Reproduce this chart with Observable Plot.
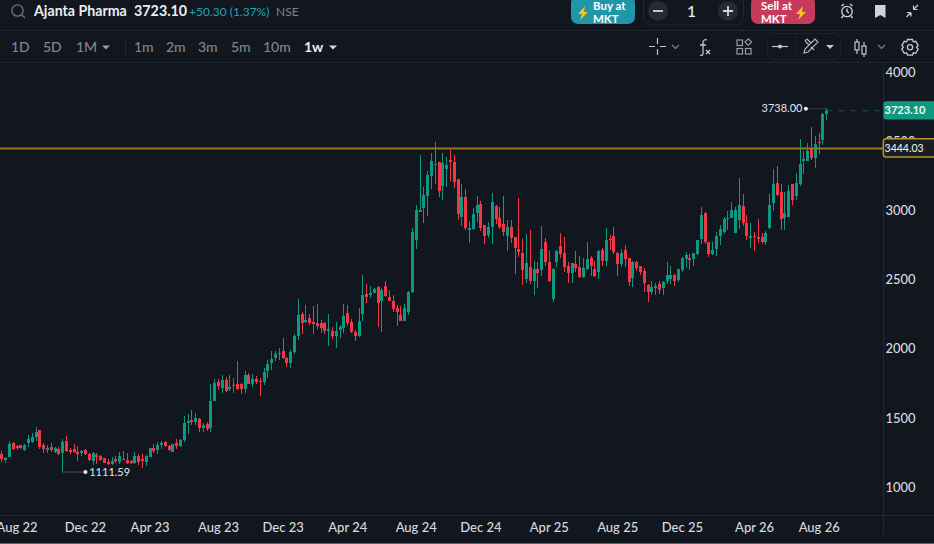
<!DOCTYPE html>
<html><head><meta charset="utf-8">
<script src="https://cdn.jsdelivr.net/npm/d3@7"></script>
<script src="https://cdn.jsdelivr.net/npm/@observablehq/plot@0.6"></script>
<style>
html,body{margin:0;padding:0;background:#11161f;}
#page{position:relative;width:934px;height:544px;overflow:hidden;background:#11161f;font-family:Lato,sans-serif;color:#e6e8ec;}
#head{position:relative;height:62px;}
.hl{position:absolute;left:0;right:0;height:1px;background:#22272f;}
.t{position:absolute;white-space:nowrap;line-height:1;}
.tf{color:#7f858e;font-size:14px;top:40px;font-weight:500;}
.btn{position:absolute;top:-4px;height:28px;width:64px;border-radius:7px;color:#fff;font-size:11.5px;font-weight:700;line-height:12.5px;}
#chart{position:absolute;left:0;top:62px;}
#chart svg{display:block;}
svg.ic{position:absolute;overflow:visible;}
</style></head><body>
<div id="page">
<div id="head">
<svg class="ic" style="left:0;top:0" width="934" height="62" fill="none">
  <circle cx="17.5" cy="10.5" r="5.6" stroke="#6b7078" stroke-width="1.4"/><path d="M21.5 14.5l3.5 3.5" stroke="#6b7078" stroke-width="1.4"/>
  <rect x="643.5" y="-6" width="100" height="31" rx="8" stroke="#22272f"/>
  <circle cx="658" cy="11" r="10" fill="#252c38"/><path d="M653 11h10" stroke="#d4d6da" stroke-width="1.8"/>
  <circle cx="728" cy="11" r="10" fill="#252c38"/><path d="M723 11h10M728 6v10" stroke="#d4d6da" stroke-width="1.8"/>
  <g stroke="#d2d4d8" stroke-width="1.3"><circle cx="847" cy="11.5" r="5.2"/><path d="M847 8.5v3l2 1.5M841.5 6l2.5-2M852.5 6l-2.5-2M843 16l-1.5 2M851 16l1.5 2"/></g>
  <path d="M875 5h10.5v13l-5.2-3-5.3 3z" fill="#cdd2dc"/>
  <path d="M906.5 17l4.5-4.5M911 12.5v4M911 12.5h-4M918 5l-4.5 4.5M913.5 9.5v-4M913.5 9.5h4" stroke="#d2d4d8" stroke-width="1.2"/>
  <path d="M649 46.5h6M660 46.5h6M657.5 38v6M657.5 49v6" stroke="#c4c7cc" stroke-width="1.2"/>
  <path d="M672 45l3.5 3.5 3.5-3.5" stroke="#7f858e" stroke-width="1.1"/>
  <path d="M707 40c-2-1-4 0-4 3v10c0 2-1 3-3 2M700 45h6M706 50l4 4M710 50l-4 4" stroke="#c4c7cc" stroke-width="1.3"/>
  <g stroke="#9a9ea5" stroke-width="1.2"><rect x="737" y="40" width="5.5" height="5.5"/><rect x="737" y="48.5" width="5.5" height="5.5"/><rect x="745.5" y="48.5" width="5.5" height="5.5"/><path d="M748.3 38.8l3.3 3.3-3.3 3.3-3.3-3.3z"/></g>
  <rect x="767.5" y="33.5" width="73" height="26" rx="6" stroke="#1e232b"/>
  <path d="M772 46.5h16" stroke="#c4c7cc" stroke-width="1.2"/><circle cx="780" cy="46.5" r="2" fill="#c4c7cc"/>
  <path d="M796 37v19" stroke="#22272f"/>
  <path d="M804 53l1-4 10-10 3 3-10 10zM805 41l4 4M811 47l3 3 M805 41l2-2 4 4" stroke="#b8bbc0" stroke-width="1.1"/>
  <path d="M826 45h8l-4 4z" fill="#c4c7cc"/>
  <g stroke="#c4c7cc" stroke-width="1.2"><path d="M857 39v15M864 42v15"/><rect x="855" y="42" width="4" height="8" fill="#11161f"/><rect x="862" y="46" width="4" height="8" fill="#11161f"/></g>
  <path d="M878 45l3.5 3.5 3.5-3.5" stroke="#7f858e" stroke-width="1.1"/>
  <g stroke="#c4c7cc" stroke-width="1.3"><path d="M907.5 39.5h5l.8 2.3 2.4-.5 2.5 4.2-1.6 1.8 1.6 1.8-2.5 4.2-2.4-.5-.8 2.3h-5l-.8-2.3-2.4.5-2.5-4.2 1.6-1.8-1.6-1.8 2.5-4.2 2.4.5z"/><circle cx="910" cy="47.3" r="2.6"/></g>
  <path d="M125.5 38v18" stroke="#22272f"/>
  <path d="M102 45.5h8l-4 4z" fill="#9a9ea5"/><path d="M329 45.5h8l-4 4z" fill="#d6d8dc"/>
</svg>
<div class="t" style="left:34px;top:4px;font-size:14.2px;font-weight:700;color:#eceef1">Ajanta Pharma</div>
<div class="t" style="left:134px;top:3.5px;font-size:14.3px;font-weight:700;color:#eceef1">3723.10</div>
<div class="t" style="left:189px;top:6px;font-size:12px;color:#1fa5b5">+50.30 (1.37%)</div>
<div class="t" style="left:276px;top:6px;font-size:12px;color:#7f858e">NSE</div>
<div class="btn" style="left:571px;background:#1f97a8"><span class="t" style="left:22px;top:4px">Buy at</span><span class="t" style="left:22px;top:17px">MKT</span>
<svg class="ic" style="left:7px;top:10px" width="12" height="14"><path d="M7 0L0 8h4l-2 6 8-8H6z" fill="#f7c51e"/></svg></div>
<div class="btn" style="left:751px;background:#c63a5b"><span class="t" style="left:10px;top:4px">Sell at</span><span class="t" style="left:10px;top:17px">MKT</span>
<svg class="ic" style="left:45px;top:10px" width="12" height="14"><path d="M7 0L0 8h4l-2 6 8-8H6z" fill="#f7c51e"/></svg></div>
<div class="t" style="left:687px;top:4px;font-size:15.5px;font-weight:500;color:#eceef1">1</div>
<div class="hl" style="top:30px"></div><div class="hl" style="top:62px"></div>
<div class="t tf" style="left:11px">1D</div><div class="t tf" style="left:43px">5D</div><div class="t tf" style="left:76px">1M</div>
<div class="t tf" style="left:134px">1m</div><div class="t tf" style="left:166px">2m</div><div class="t tf" style="left:198px">3m</div><div class="t tf" style="left:231px">5m</div><div class="t tf" style="left:263px">10m</div>
<div class="t tf" style="left:304px;color:#eceef1;font-weight:700">1w</div>
</div>
<div id="chart"></div>
<div style="position:absolute;left:0;right:0;top:543px;height:1px;background:#5c5a9a"></div>
</div>
<script>
const opens=[1238,1200,1217,1313,1296,1301,1272,1320,1327,1361,
1407,1299,1270,1284,1255,1270,1248,1327,1267,1270,
1253,1248,1262,1238,1188,1226,1224,1205,1181,1166,
1200,1181,1202,1195,1185,1176,1219,1202,1185,1219,
1279,1267,1306,1325,1296,1255,1315,1303,1340,1465,
1484,1474,1491,1426,1455,1428,1628,1759,1722,1773,
1715,1730,1744,1744,1715,1809,1744,1780,1766,1759,
1838,1896,1939,1968,1982,1932,1903,1982,2091,2250,
2199,2221,2192,2185,2185,2185,2134,2127,2098,2141,
2149,2257,2192,2120,2091,2250,2394,2394,2409,2445,
2351,2452,2373,2344,2293,2243,2206,2271,2411,2786,
2989,3018,3104,3249,3328,3345,3176,3299,3364,3350,
3220,2953,3097,2859,2866,2981,3046,2888,2822,2880,
3025,2945,2895,2815,2873,2801,2714,2685,2505,2584,
2490,2570,2570,2765,2620,2360,2627,2736,2685,2598,
2548,2606,2584,2519,2577,2656,2570,2555,2707,2635,
2793,2808,2685,2613,2707,2649,2512,2620,2598,2562,
2454,2411,2440,2461,2440,2490,2505,2533,2497,2570,
2649,2656,2654,2685,2794,2981,2765,2685,2721,2815,
2844,2938,2945,2839,2931,3025,2909,2801,2815,2801,
2801,2772,2873,3054,3191,3126,2945,2953,3184,3104,
3191,3357,3357,3444,3379,3494,3509,3697];
const highs=[1262,1214,1335,1323,1301,1306,1313,1373,1393,1431,
1412,1320,1301,1320,1291,1291,1347,1368,1279,1311,
1296,1267,1272,1248,1255,1243,1229,1212,1202,1214,
1224,1253,1260,1248,1195,1250,1238,1238,1231,1284,
1308,1327,1330,1330,1303,1311,1344,1344,1513,1527,
1556,1537,1496,1465,1472,1744,1780,1780,1809,1797,
1809,1787,1910,1754,1838,1821,1816,1802,1787,1860,
1917,1982,1982,2002,2076,1942,1990,2105,2358,2264,
2315,2250,2308,2322,2206,2190,2250,2156,2192,2170,
2322,2315,2214,2134,2293,2530,2466,2452,2440,2452,
2438,2490,2423,2387,2315,2308,2322,2416,2873,3039,
3400,3172,3285,3415,3494,3350,3415,3386,3437,3400,
3225,3191,3155,2924,3018,3104,3068,2895,2916,3126,
3039,3025,3104,2931,2931,2806,3090,2794,2830,2859,
2635,2627,2887,2801,2714,2584,2714,2837,2808,2627,
2620,2707,2671,2656,2772,2671,2635,2714,2729,2873,
2822,2880,2700,2721,2750,2655,2635,2635,2600,2584,
2468,2490,2476,2490,2490,2627,2598,2541,2577,2663,
2700,2685,2692,2782,3025,2989,2772,2772,2844,2895,
2953,2996,3061,3025,3234,3119,2967,2907,2844,2936,
2835,2849,3119,3299,3321,3191,3133,3184,3190,3273,
3514,3429,3485,3603,3538,3559,3702,3738];
const lows=[1178,1171,1214,1267,1267,1275,1262,1291,1315,1332,
1277,1248,1243,1255,1243,1234,1111.59,1253,1236,1243,
1188,1224,1229,1190,1157,1166,1185,1171,1157,1161,
1171,1166,1195,1166,1166,1166,1157,1137,1152,1214,
1243,1241,1272,1289,1260,1253,1277,1291,1327,1383,
1448,1450,1400,1395,1407,1400,1625,1701,1681,1689,
1696,1677,1701,1672,1681,1749,1722,1744,1657,1737,
1787,1845,1910,1917,1922,1867,1860,1961,2062,2105,
2185,2170,2105,2141,2112,2105,2019,2069,2004,2076,
2112,2163,2112,2055,2086,2199,2329,2365,2405,2156,
2120,2373,2346,2264,2163,2202,2202,2243,2400,2721,
2985,2912,2960,3155,3191,3097,3075,3172,3213,3162,
2931,2888,2859,2765,2859,2916,2851,2757,2801,2757,
2902,2866,2815,2707,2765,2541,2664,2461,2476,2468,
2389,2440,2526,2598,2483,2338,2591,2656,2555,2476,
2476,2555,2512,2512,2570,2526,2519,2505,2598,2598,
2714,2685,2526,2591,2591,2454,2447,2562,2533,2411,
2338,2389,2389,2396,2389,2468,2468,2454,2483,2555,
2584,2570,2594,2678,2757,2757,2666,2678,2671,2750,
2830,2859,2943,2835,2863,2888,2786,2729,2707,2767,
2757,2750,2863,2996,3104,2859,2859,2950,3039,3075,
3176,3263,3355,3364,3306,3408,3473,3653];
const closes=[1205,1205,1311,1277,1284,1282,1303,1342,1361,1397,
1289,1275,1282,1270,1282,1238,1320,1260,1255,1255,
1241,1260,1238,1195,1243,1219,1195,1176,1166,1188,
1188,1219,1197,1176,1176,1224,1181,1190,1219,1282,
1260,1303,1318,1303,1267,1308,1296,1335,1462,1477,
1470,1494,1426,1448,1421,1621,1751,1730,1773,1698,
1722,1737,1715,1715,1809,1751,1780,1759,1759,1831,
1889,1925,1961,1961,1932,1903,1975,2091,2243,2185,
2206,2192,2178,2170,2156,2134,2139,2098,2127,2156,
2235,2185,2120,2091,2199,2387,2380,2401,2430,2336,
2423,2387,2351,2293,2271,2206,2293,2409,2839,3003,
3003,3111,3249,3357,3335,3140,3340,3328,3350,3205,
2974,3090,2873,2866,2967,3032,2873,2815,2873,3054,
2938,2880,2844,2873,2801,2729,2700,2570,2613,2490,
2570,2548,2721,2627,2490,2570,2700,2685,2591,2548,
2613,2584,2519,2577,2642,2598,2526,2700,2635,2779,
2786,2700,2613,2692,2649,2483,2620,2584,2555,2476,
2411,2440,2447,2425,2476,2533,2533,2490,2570,2649,
2671,2642,2690,2779,2960,2772,2685,2707,2815,2859,
2931,2945,3003,2996,3039,2909,2815,2815,2808,2794,
2772,2830,3039,3184,3111,2938,2981,3140,3075,3198,
3335,3371,3429,3379,3480,3487,3697,3723.10];
const tickIndex=[4,22,39,57,74,91,109,126,144,162,179,198,215];
const tickLabels=["Aug 22","Dec 22","Apr 23","Aug 23","Dec 23","Apr 24","Aug 24","Dec 24","Apr 25","Aug 25","Dec 25","Apr 26","Aug 26"];
const priceTicks=[1000,1500,2000,2500,3000,3500,4000];
const lastPrice=3723.10, levelPrice=3444.03, highPrice=3738.00, lowPrice=1111.59;

const GREEN="#0c9981", RED="#f23645", AXIS="#23272f", TXT="#d8dadd", GOLD="#97791f", GOLDTAG="#b8962c";
const bars=opens.map((o,i)=>({i,o,h:highs[i],l:lows[i],c:closes[i],col:closes[i]>=o?GREEN:RED}));
const axisAt=232, farRight=246, lastI=bars.length-1;

const plot=Plot.plot({
  width:934,height:482,marginTop:0,marginLeft:0,marginRight:52,marginBottom:30,
  style:{background:"transparent",fontFamily:"Lato,sans-serif",overflow:"visible"},
  x:{type:"linear",domain:[0,217],range:[1.3,826.3]},
  y:{type:"linear",domain:[1000,4000],range:[425,10]},
  marks:[
    Plot.ruleY([801],{x1:-1,x2:farRight,stroke:AXIS,strokeWidth:1,shapeRendering:"crispEdges"}),
    Plot.ruleX([axisAt],{y1:656,y2:4072,stroke:AXIS,strokeWidth:1,shapeRendering:"crispEdges"}),
    Plot.axisX({ticks:tickIndex,tickFormat:i=>tickLabels[tickIndex.indexOf(i)],tickSize:0,tickPadding:8,fontSize:13,fontWeight:500,fill:TXT,label:null,anchor:"bottom"}),
    Plot.axisY({ticks:priceTicks,tickFormat:d=>String(d),tickSize:0,tickPadding:3,fontSize:13,fontWeight:500,fill:TXT,label:null,anchor:"right"}),
    Plot.ruleX(bars,{x:"i",y1:"l",y2:"h",stroke:"col",strokeWidth:1,shapeRendering:"crispEdges"}),
    Plot.ruleX(bars,{x:"i",y1:d=>Math.max(d.o,d.c)+3,y2:d=>Math.min(d.o,d.c)-3,stroke:"col",strokeWidth:3,shapeRendering:"crispEdges"}),
    Plot.ruleY([levelPrice],{x1:-1,x2:axisAt,stroke:GOLD,strokeWidth:2,dy:-1}),
    Plot.ruleY([lastPrice],{x1:lastI,x2:axisAt,stroke:"#1f5148",strokeWidth:1,strokeDasharray:"6 6"}),
    Plot.ruleY([highPrice],{x1:211.5,x2:lastI,stroke:"#333841",strokeWidth:1}),
    Plot.ruleY([lowPrice],{x1:16,x2:22,stroke:"#4a4f57",strokeWidth:1}),
    Plot.dot([{i:211.5,v:highPrice},{i:22,v:lowPrice}],{x:"i",y:"v",r:2,fill:"#f0f0f0"}),
    Plot.text([{i:210.6,v:highPrice}],{x:"i",y:"v",text:()=>highPrice.toFixed(2),textAnchor:"end",fontSize:11,fontWeight:500,fill:"#dcdde0"}),
    Plot.text([{i:23,v:lowPrice}],{x:"i",y:"v",text:()=>lowPrice.toFixed(2),textAnchor:"start",fontSize:11,fontWeight:500,fill:"#dcdde0"}),
    Plot.rect([lastPrice],{x1:axisAt,x2:farRight,y1:d=>d+66,y2:d=>d-66,fill:"#0d9a80",rx:3}),
    Plot.text([lastPrice],{x:axisAt+0.2,y:d=>d,text:d=>d.toFixed(2),textAnchor:"start",fontSize:11,fontWeight:700,fill:"#f4f6f6"}),
    Plot.rect([levelPrice],{x1:axisAt,x2:farRight,y1:d=>d+66,y2:d=>d-66,fill:"#1a1d22",stroke:GOLDTAG,strokeWidth:1.5,rx:3,dy:-1}),
    Plot.text([levelPrice],{x:axisAt+0.2,y:d=>d,text:d=>d.toFixed(2),textAnchor:"start",fontSize:10.5,fontWeight:500,fill:"#ececec",dy:-1})
  ]
});
document.getElementById("chart").appendChild(plot);
</script>
</body></html>
